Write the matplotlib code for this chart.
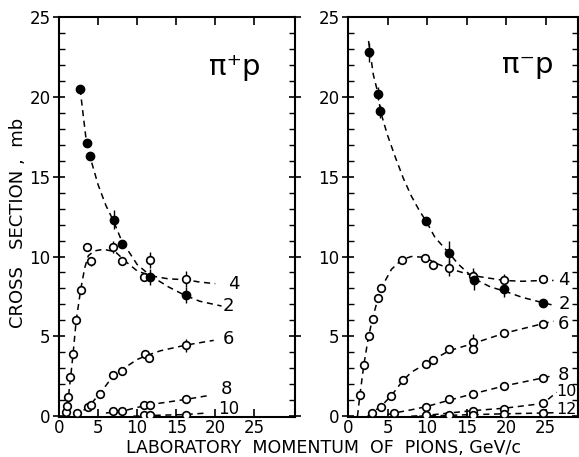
import matplotlib
matplotlib.use("Agg")
import matplotlib.pyplot as plt

# --- pi+ p : measured points (momentum GeV/c, cross section mb) ---
pp2_x = [2.7, 3.55, 4.0, 7.0, 8.1, 11.7, 16.2]
pp2_y = [20.5, 17.1, 16.3, 12.3, 10.8, 8.7, 7.6]
pp2_e = [0, 0, 0, 0.6, 0, 0.5, 0.5]
pp4_x = [0.9, 1.0, 1.2, 1.4, 1.75, 2.15, 2.8, 3.55, 4.05, 6.9, 8.1, 10.9, 11.7, 16.2]
pp4_y = [0.27, 0.63, 1.2, 2.45, 3.9, 6.05, 7.9, 10.6, 9.7, 10.6, 9.7, 8.7, 9.8, 8.6]
pp4_e = [0, 0, 0, 0, 0, 0, 0, 0, 0.3, 0.4, 0, 0, 0.5, 0.5]
pp6_x = [2.3, 3.7, 4.05, 5.2, 6.9, 8.0, 11.0, 11.5, 16.2]
pp6_y = [0.17, 0.55, 0.7, 1.4, 2.55, 2.85, 3.9, 3.65, 4.45]
pp6_e = [0, 0, 0, 0, 0, 0, 0, 0, 0.4]
pp8_x = [6.9, 8.0, 10.9, 11.7, 16.2]
pp8_y = [0.35, 0.3, 0.7, 0.7, 1.05]
pp10_x = [10.9, 11.7, 16.2]
pp10_y = [0.05, 0.05, 0.1]

# --- pi+ p : dashed guide curves ---
cp2_x = [2.7, 3.5, 4.0, 5.0, 6.0, 7.0, 8.0, 10.0, 11.7, 14.0, 16.0, 18.0, 20.8]
cp2_y = [20.5, 17.2, 16.2, 14.5, 13.2, 12.2, 11.0, 9.5, 8.8, 8.1, 7.6, 7.2, 6.9]
cp4_x = [0.8, 1.0, 1.2, 1.5, 1.8, 2.2, 2.8, 3.3, 3.75, 4.5, 5.7, 7.2, 8.5, 10.0, 11.7, 14.0, 16.2, 18.0, 20.0]
cp4_y = [0.0, 0.6, 1.2, 2.5, 3.9, 6.0, 8.0, 9.3, 10.05, 10.35, 10.45, 10.3, 9.7, 9.1, 8.8, 8.6, 8.55, 8.4, 8.3]
cp6_x = [2.0, 2.6, 3.7, 5.2, 6.9, 8.0, 10.0, 11.2, 13.0, 16.2, 19.8]
cp6_y = [0.0, 0.2, 0.55, 1.4, 2.5, 2.9, 3.55, 3.8, 4.1, 4.45, 4.75]
cp8_x = [6.0, 8.0, 10.0, 12.0, 16.2, 19.2]
cp8_y = [0.2, 0.3, 0.55, 0.75, 1.05, 1.3]
cp10_x = [9.5, 12.0, 16.0, 19.0]
cp10_y = [0.0, 0.05, 0.1, 0.2]

# --- pi- p : measured points ---
pm2_x = [2.6, 3.8, 4.1, 9.9, 12.8, 16.0, 19.8, 24.7]
pm2_y = [22.8, 20.2, 19.1, 12.2, 10.2, 8.5, 7.95, 7.1]
pm2_e = [0.6, 0.4, 0.4, 0, 0.8, 0.6, 0.5, 0]
pm4_x = [1.5, 2.0, 2.6, 3.1, 3.8, 4.15, 6.8, 9.75, 10.7, 12.8, 15.8, 19.8, 24.7]
pm4_y = [1.3, 3.2, 5.0, 6.1, 7.4, 8.0, 9.8, 9.9, 9.5, 9.3, 8.8, 8.5, 8.6]
pm4_e = [0, 0, 0, 0, 0, 0, 0, 0, 0.3, 0.5, 0.5, 0.4, 0]
pm6_x = [3.0, 4.15, 5.5, 6.9, 9.9, 10.8, 12.8, 15.8, 15.8, 19.8, 24.7]
pm6_y = [0.23, 0.6, 1.27, 2.25, 3.3, 3.5, 4.2, 4.65, 4.2, 5.2, 5.8]
pm6_e = [0, 0, 0, 0, 0, 0, 0, 0.5, 0, 0, 0]
pm8_x = [5.85, 9.9, 12.8, 15.8, 19.8, 24.7]
pm8_y = [0.2, 0.6, 1.05, 1.4, 1.9, 2.4]
pm10_x = [9.9, 15.8, 19.8, 24.7]
pm10_y = [0.05, 0.35, 0.45, 0.8]
pm12_x = [12.8, 15.8, 19.8, 24.7]
pm12_y = [0.05, 0.1, 0.15, 0.2]

# --- pi- p : dashed guide curves ---
cm2_x = [2.6, 3.2, 3.8, 4.1, 5.0, 6.0, 7.0, 8.0, 9.0, 9.9, 11.0, 12.8, 14.0, 16.0, 18.0, 20.0, 22.0, 24.7, 26.0]
cm2_y = [23.5, 21.4, 20.2, 19.1, 17.6, 16.2, 14.9, 13.8, 12.9, 12.2, 11.2, 10.2, 9.5, 8.6, 8.1, 7.8, 7.45, 7.1, 6.95]
cm4_x = [1.2, 1.5, 2.0, 2.6, 3.1, 3.8, 4.5, 5.5, 6.8, 8.0, 9.75, 11.0, 12.8, 15.8, 19.8, 22.0, 24.7, 26.0]
cm4_y = [0.0, 1.3, 3.2, 5.0, 6.1, 7.4, 8.3, 9.2, 9.8, 10.0, 9.95, 9.6, 9.25, 8.8, 8.5, 8.45, 8.5, 8.5]
cm6_x = [2.5, 3.0, 4.15, 5.5, 6.9, 8.0, 9.9, 11.0, 12.8, 15.8, 19.8, 24.7, 26.0]
cm6_y = [0.0, 0.23, 0.6, 1.3, 2.2, 2.75, 3.3, 3.6, 4.1, 4.55, 5.2, 5.8, 5.95]
cm8_x = [5.0, 5.85, 8.0, 9.9, 12.8, 15.8, 19.8, 24.7, 26.0]
cm8_y = [0.1, 0.2, 0.4, 0.6, 1.0, 1.4, 1.9, 2.4, 2.55]
cm10_x = [8.0, 9.9, 12.8, 15.8, 19.8, 24.7, 26.4]
cm10_y = [0.0, 0.05, 0.2, 0.35, 0.5, 0.8, 1.5]
cm12_x = [9.0, 15.8, 19.8, 24.7, 26.2]
cm12_y = [0.0, 0.1, 0.15, 0.2, 0.22]

xticks = [0, 5, 10, 15, 20, 25]
yticks = [0, 5, 10, 15, 20, 25]

plt.rcParams['font.family'] = ['DejaVu Sans']

fig = plt.figure(figsize=(5.79, 4.57), dpi=100)
ax1 = fig.add_axes([59 / 579, 40 / 457, 236 / 579, 400 / 457])
ax2 = fig.add_axes([348 / 579, 40 / 457, 230 / 579, 400 / 457])

dash = dict(color='black', lw=1.1, linestyle=(0, (4, 3)))
opn = dict(fmt='o', ms=5.5, mfc='white', mec='black', mew=1.2, ecolor='black', elinewidth=1.0, capsize=0, zorder=3)
fil = dict(fmt='o', ms=6, mfc='black', mec='black', ecolor='black', elinewidth=1.0, capsize=0, zorder=3)


def style(ax, xmax):
    ax.set_xlim(0, xmax)
    ax.set_ylim(-0.05, 25)
    ax.set_xticks(xticks)
    ax.set_yticks(yticks)
    ax.set_yticks(range(0, 26), minor=True)
    ax.tick_params(axis='y', which='major', direction='inout', length=8, width=1.2,
                   left=True, right=True, labelsize=12, pad=2)
    ax.tick_params(axis='y', which='minor', direction='in', length=4, width=1.0, left=True, right=True)
    ax.tick_params(axis='x', which='major', direction='in', length=6, width=1.2,
                   top=True, bottom=True, labelsize=12, pad=1.5)
    for s in ax.spines.values():
        s.set_linewidth(1.5)


# left panel: pi+ p
style(ax1, 30.2)
ax1.plot(cp2_x, cp2_y, **dash)
ax1.plot(cp4_x, cp4_y, **dash)
ax1.plot(cp6_x, cp6_y, **dash)
ax1.plot(cp8_x, cp8_y, **dash)
ax1.plot(cp10_x, cp10_y, **dash)
ax1.errorbar(pp4_x, pp4_y, yerr=pp4_e, **opn)
ax1.errorbar(pp6_x, pp6_y, yerr=pp6_e, **opn)
ax1.errorbar(pp8_x, pp8_y, **opn)
ax1.errorbar(pp10_x, pp10_y, **opn)
ax1.errorbar(pp2_x, pp2_y, yerr=pp2_e, **fil)
ax1.text(22.5, 21.9, 'π⁺p', fontsize=21, ha='center', va='center')
for lab, x, y in [('4', 21.6, 8.3), ('2', 21.0, 6.9), ('6', 21.0, 4.85), ('8', 20.7, 1.7)]:
    ax1.text(x, y, lab, fontsize=13, ha='left', va='center')
ax1.text(20.4, 0.45, '10', fontsize=12, ha='left', va='center')

# right panel: pi- p
style(ax2, 29.1)
ax2.plot(cm2_x, cm2_y, **dash)
ax2.plot(cm4_x, cm4_y, **dash)
ax2.plot(cm6_x, cm6_y, **dash)
ax2.plot(cm8_x, cm8_y, **dash)
ax2.plot(cm10_x, cm10_y, **dash)
ax2.plot(cm12_x, cm12_y, **dash)
ax2.errorbar(pm4_x, pm4_y, yerr=pm4_e, **opn)
ax2.errorbar(pm6_x, pm6_y, yerr=pm6_e, **opn)
ax2.errorbar(pm8_x, pm8_y, **opn)
ax2.errorbar(pm10_x, pm10_y, **opn)
ax2.errorbar(pm12_x, pm12_y, **opn)
ax2.errorbar(pm2_x, pm2_y, yerr=pm2_e, **fil)
ax2.text(22.7, 22.0, 'π⁻p', fontsize=21, ha='center', va='center')
for lab, x, y in [('4', 26.6, 8.55), ('2', 26.6, 7.0), ('6', 26.6, 5.8), ('8', 26.6, 2.6)]:
    ax2.text(x, y, lab, fontsize=13, ha='left', va='center')
for lab, x, y in [('10', 26.4, 1.55), ('12', 26.3, 0.45)]:
    ax2.text(x, y, lab, fontsize=11.5, ha='left', va='center')

fig.text(18 / 579, 1 - 223 / 457, 'CROSS   SECTION ,  mb', rotation=90, fontsize=13,
         ha='center', va='center')
fig.text(324 / 579, 1 - 448 / 457, 'LABORATORY  MOMENTUM  OF  PIONS, GeV/c', fontsize=12.5,
         ha='center', va='center')

fig.savefig('out.png', dpi=100)
